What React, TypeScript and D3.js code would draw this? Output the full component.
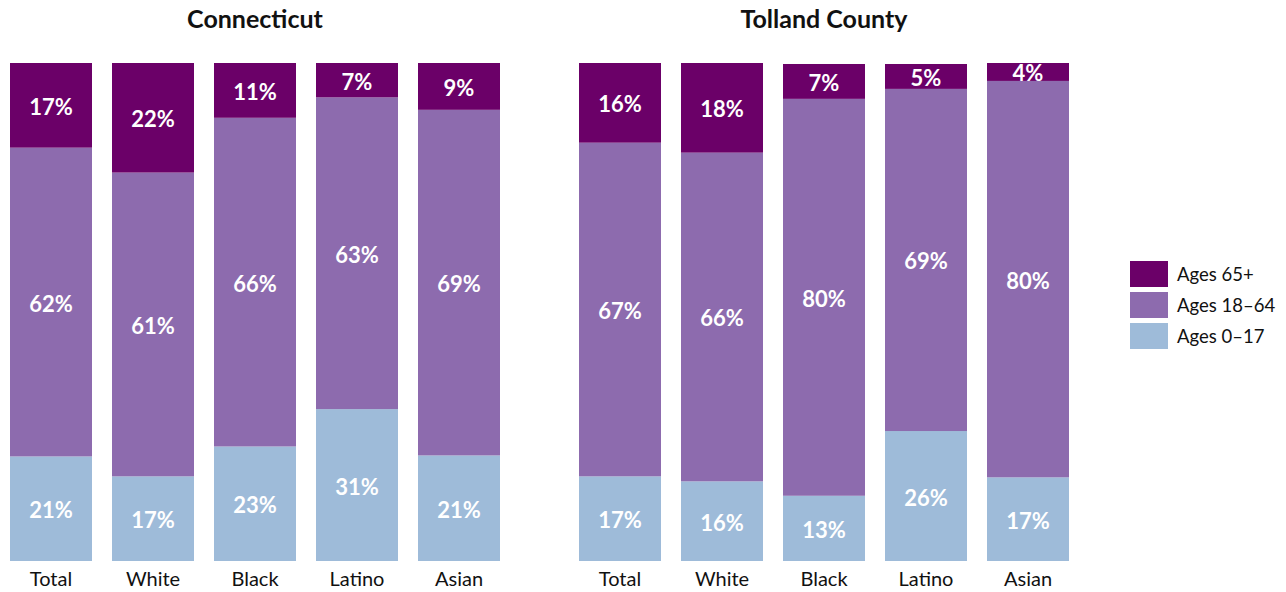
import React from "react";
import * as d3 from "d3";

const categories = ["Total", "White", "Black", "Latino", "Asian"];
const panels = ["Connecticut", "Tolland County"];
const seriesNames = ["Ages 0–17", "Ages 18–64", "Ages 65+"];
const colors = ["#9ebbd9", "#8d6bae", "#6b0068"];

// values per panel: [0-17, 18-64, 65+] per category
const ctAges0to17 = [21, 17, 23, 30.5, 21.2];
const ctAges18to64 = [62, 61, 66, 62.6, 69.4];
const ctAges65plus = [17, 22, 11, 6.9, 9.4];

const tcAges0to17 = [17, 16, 13.1, 26.1, 16.8];
const tcAges18to64 = [67, 66, 79.7, 68.7, 79.6];
const tcAges65plus = [16, 18, 7.0, 5.0, 3.6];

const panelData = [
  [ctAges0to17, ctAges18to64, ctAges65plus],
  [tcAges0to17, tcAges18to64, tcAges65plus],
];

const W = 1286;
const H = 592;
const top = 63;
const bottom = 561;
const panelRanges: [number, number][] = [
  [0, 510],
  [569, 1079],
];
const font = "Lato, 'Source Sans Pro', sans-serif";

export default function App() {
  const y = d3.scaleLinear().domain([0, 100]).range([bottom, top]);
  return (
    <svg width={W} height={H} style={{ position: "absolute", left: 0, top: 0, fontFamily: font }}>
      {panels.map((p, pi) => {
        const x = d3
          .scaleBand<string>()
          .domain(categories)
          .range(panelRanges[pi])
          .paddingInner(20 / 102)
          .paddingOuter(10 / 102);
        const rows = categories.map((c, ci) => {
          const o: any = { cat: c };
          seriesNames.forEach((s, si) => (o[s] = panelData[pi][si][ci]));
          return o;
        });
        const stack = d3.stack<any>().keys(seriesNames)(rows);
        const [r0, r1] = panelRanges[pi];
        return (
          <g key={p}>
            <text
              x={(r0 + r1) / 2}
              y={28}
              textAnchor="middle"
              fontSize={25}
              fontWeight={700}
              fill="#111"
            >
              {p}
            </text>
            {stack.map((layer, si) => (
              <g key={si}>
                {layer.map((d, ci) => {
                  const y0 = y(d[0]);
                  const y1 = y(d[1]);
                  const xx = x(categories[ci])!;
                  return (
                    <g key={ci}>
                      <rect
                        x={xx}
                        y={y1}
                        width={x.bandwidth()}
                        height={y0 - y1}
                        fill={colors[si]}
                      />
                      <text
                        x={xx + x.bandwidth() / 2}
                        y={(y0 + y1) / 2 + 1}
                        textAnchor="middle"
                        dominantBaseline="central"
                        fontSize={22}
                        fontWeight={700}
                        fill="#fff"
                      >
                        {Math.round(d[1] - d[0]) + "%"}
                      </text>
                    </g>
                  );
                })}
              </g>
            ))}
            {categories.map((c) => (
              <text
                key={c}
                x={x(c)! + x.bandwidth() / 2}
                y={586}
                textAnchor="middle"
                fontSize={20}
                fill="#111"
              >
                {c}
              </text>
            ))}
          </g>
        );
      })}
      <g>
        {[2, 1, 0].map((si, i) => (
          <g key={si} transform={`translate(1130, ${261 + i * 31})`}>
            <rect width={38} height={26} fill={colors[si]} />
            <text x={47} y={13} dominantBaseline="central" fontSize={18.5} fill="#111">
              {seriesNames[si]}
            </text>
          </g>
        ))}
      </g>
    </svg>
  );
}
